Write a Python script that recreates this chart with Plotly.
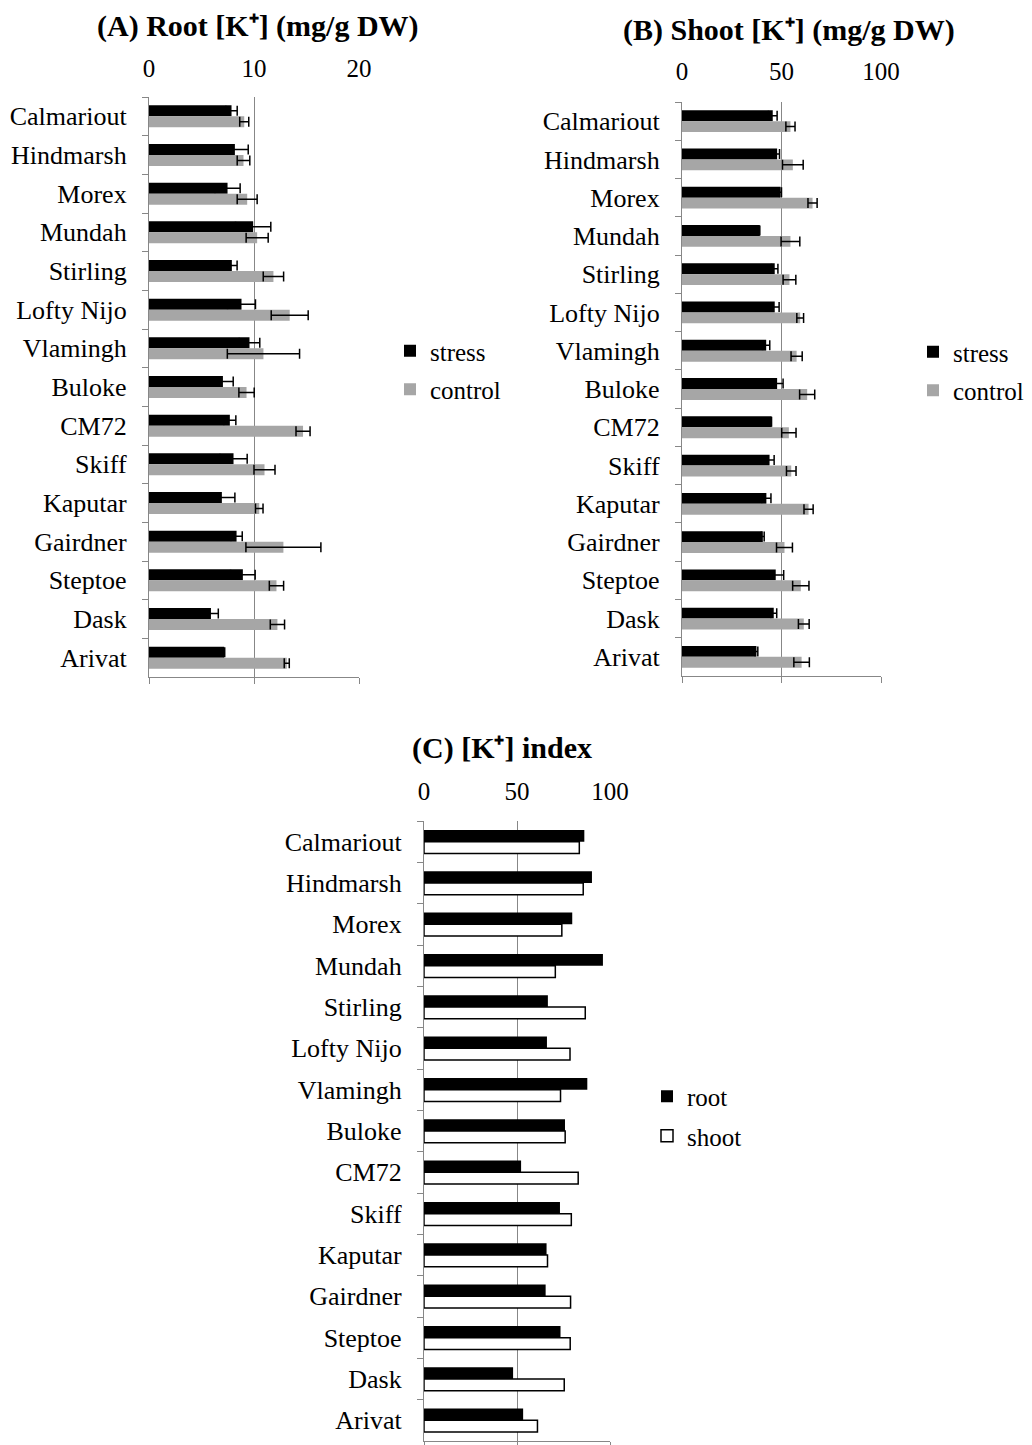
import plotly.graph_objects as go

W, H = 1032, 1445
OFF = 8  # page body margin offset

categories = ["Calmariout", "Hindmarsh", "Morex", "Mundah", "Stirling", "Lofty Nijo",
              "Vlamingh", "Buloke", "CM72", "Skiff", "Kaputar", "Gairdner",
              "Steptoe", "Dask", "Arivat"]

# (A) Root [K+] (mg/g DW)
root_stress = [7.86, 8.18, 7.48, 9.92, 7.89, 8.81, 9.57, 7.04, 7.70, 8.05, 6.94, 8.34, 8.94, 5.90, 7.16]
root_stress_err = [0.54, 1.27, 1.20, 1.68, 0.50, 1.33, 0.98, 0.98, 0.57, 1.30, 1.24, 0.54, 1.17, 0.70, 0.05]
root_control = [9.07, 9.00, 9.35, 10.30, 11.85, 13.40, 10.90, 9.29, 14.67, 11.00, 10.50, 12.80, 12.14, 12.23, 13.12]
root_control_err = [0.43, 0.60, 0.95, 1.05, 0.97, 1.76, 3.44, 0.73, 0.67, 1.00, 0.36, 3.57, 0.68, 0.68, 0.24]

# (B) Shoot [K+] (mg/g DW)
shoot_stress = [45.6, 47.8, 49.5, 39.1, 46.6, 46.6, 42.3, 47.8, 45.0, 44.0, 42.4, 40.6, 47.1, 46.1, 37.4]
shoot_stress_err = [2.2, 1.2, 0.5, 0.0, 1.6, 2.2, 1.8, 3.0, 0.0, 2.3, 2.3, 0.7, 4.0, 1.5, 0.7]
shoot_control = [54.5, 55.7, 65.6, 54.5, 54.0, 59.4, 57.6, 62.9, 53.7, 54.9, 63.6, 51.5, 59.7, 61.2, 60.1]
shoot_control_err = [2.3, 5.2, 2.3, 4.7, 3.2, 1.7, 2.8, 3.8, 3.6, 2.4, 2.3, 4.0, 4.1, 2.7, 3.9]

# (C) [K+] index
index_root = [86.2, 90.3, 79.7, 96.2, 66.6, 66.1, 87.8, 75.8, 52.2, 73.1, 65.9, 65.4, 73.4, 47.9, 53.3]
index_shoot = [83.5, 85.6, 74.1, 70.6, 86.7, 78.5, 73.4, 75.9, 82.9, 79.2, 66.4, 78.8, 78.6, 75.4, 61.0]

FONT = "Liberation Serif"
GRID = "#878787"
BLACK = "#000000"
GREY = "#A6A6A6"


def px_x(p):
    return (p - OFF) / W


def px_y(p):
    return 1 - (p - OFF) / H


fig = go.Figure()

err_style = dict(type="data", symmetric=True, color=BLACK, thickness=1.5, width=5)

# Panel A
fig.add_trace(go.Bar(y=categories, x=root_stress, orientation="h", name="stress",
                     marker=dict(color=BLACK, line=dict(width=0)),
                     error_x=dict(array=root_stress_err, **err_style),
                     xaxis="x", yaxis="y", legend="legend", legendgroup="a1"))
fig.add_trace(go.Bar(y=categories, x=root_control, orientation="h", name="control",
                     marker=dict(color=GREY, line=dict(width=0)),
                     error_x=dict(array=root_control_err, **err_style),
                     xaxis="x", yaxis="y", legend="legend", legendgroup="a2"))
# Panel B
fig.add_trace(go.Bar(y=categories, x=shoot_stress, orientation="h", name="stress",
                     marker=dict(color=BLACK, line=dict(width=0)),
                     error_x=dict(array=shoot_stress_err, **err_style),
                     xaxis="x2", yaxis="y2", legend="legend2", legendgroup="b1"))
fig.add_trace(go.Bar(y=categories, x=shoot_control, orientation="h", name="control",
                     marker=dict(color=GREY, line=dict(width=0)),
                     error_x=dict(array=shoot_control_err, **err_style),
                     xaxis="x2", yaxis="y2", legend="legend2", legendgroup="b2"))
# Panel C
fig.add_trace(go.Bar(y=categories, x=index_root, orientation="h", name="root",
                     marker=dict(color=BLACK, line=dict(width=0)),
                     xaxis="x3", yaxis="y3", legend="legend3", legendgroup="c1"))
fig.add_trace(go.Bar(y=categories, x=index_shoot, orientation="h", name="shoot",
                     marker=dict(color="#FFFFFF", line=dict(color=BLACK, width=1.5)),
                     xaxis="x3", yaxis="y3", legend="legend3", legendgroup="c2"))

panels = [
    # top axis, y axis, bottom axis, x domain px, y domain px (top,bottom), range, dtick, top standoff
    ("x", "y", "x4", (149, 359), (97, 677), [0, 20], 10, 14),
    ("x2", "y2", "x5", (682, 881), (102, 676), [0, 100], 50, 16),
    ("x3", "y3", "x6", (424, 610), (821, 1441), [0, 100], 50, 15),
]

layout_axes = {}
for xn, yn, bn, (x0, x1), (yt, yb), rng, dt, so in panels:
    xkey = "xaxis" + xn[1:]
    ykey = "yaxis" + yn[1:]
    bkey = "xaxis" + bn[1:]
    layout_axes[xkey] = dict(
        domain=[px_x(x0), px_x(x1)], anchor=yn, side="top", range=rng, dtick=dt,
        showgrid=True, gridcolor=GRID, gridwidth=1.3, zeroline=False, showline=False,
        ticks="", tickfont=dict(family=FONT, size=25, color=BLACK), ticklabelstandoff=so,
    )
    layout_axes[bkey] = dict(
        overlaying=xn, anchor=yn, side="bottom", range=rng, dtick=dt,
        showgrid=False, zeroline=False, showline=True, linecolor=GRID, linewidth=1.3,
        ticks="outside", ticklen=6, tickcolor=GRID, tickwidth=1.3, showticklabels=False,
    )
    layout_axes[ykey] = dict(
        domain=[px_y(yb), px_y(yt)], anchor=xn, type="category",
        categoryorder="array", categoryarray=categories, autorange="reversed",
        showline=True, linecolor=GRID, linewidth=1.3, ticks="outside", tickson="boundaries",
        ticklen=6, tickcolor=GRID, tickwidth=1.3, showgrid=False, zeroline=False,
        tickfont=dict(family=FONT, size=26, color=BLACK), ticklabelstandoff=16,
    )
    # empty helper trace so that the bottom axis line is drawn
    fig.add_trace(go.Scatter(x=[], y=[], xaxis=bn, yaxis=yn, showlegend=False,
                             hoverinfo="skip"))

leg_common = dict(font=dict(family=FONT, size=25, color=BLACK), bgcolor="rgba(0,0,0,0)",
                  borderwidth=0, xanchor="left", yanchor="middle", itemwidth=30)

fig.update_layout(
    width=W, height=H, autosize=False,
    margin=dict(l=0, r=0, t=0, b=0, autoexpand=False),
    paper_bgcolor="white", plot_bgcolor="white",
    barmode="group", bargap=0.43, bargroupgap=0.0,
    font=dict(family=FONT, size=25, color=BLACK),
    showlegend=True,
    legend=dict(x=px_x(390), y=px_y(370), tracegroupgap=3, **leg_common),
    legend2=dict(x=px_x(913), y=px_y(371), tracegroupgap=3, **leg_common),
    legend3=dict(x=px_x(647), y=px_y(1116), tracegroupgap=4, **leg_common),
    **layout_axes,
)

titles = [
    ("<b>(A) Root [K⁺] (mg/g DW)</b>", 258, 26),
    ("<b>(B) Shoot [K⁺] (mg/g DW)</b>", 789, 30),
    ("<b>(C) [K⁺] index</b>", 502, 748),
]
for txt, cx, cy in titles:
    fig.add_annotation(text=txt, xref="paper", yref="paper", x=px_x(cx), y=px_y(cy),
                       xanchor="center", yanchor="middle", showarrow=False,
                       font=dict(family=FONT, size=30, color=BLACK))

fig.write_html("out.html")
